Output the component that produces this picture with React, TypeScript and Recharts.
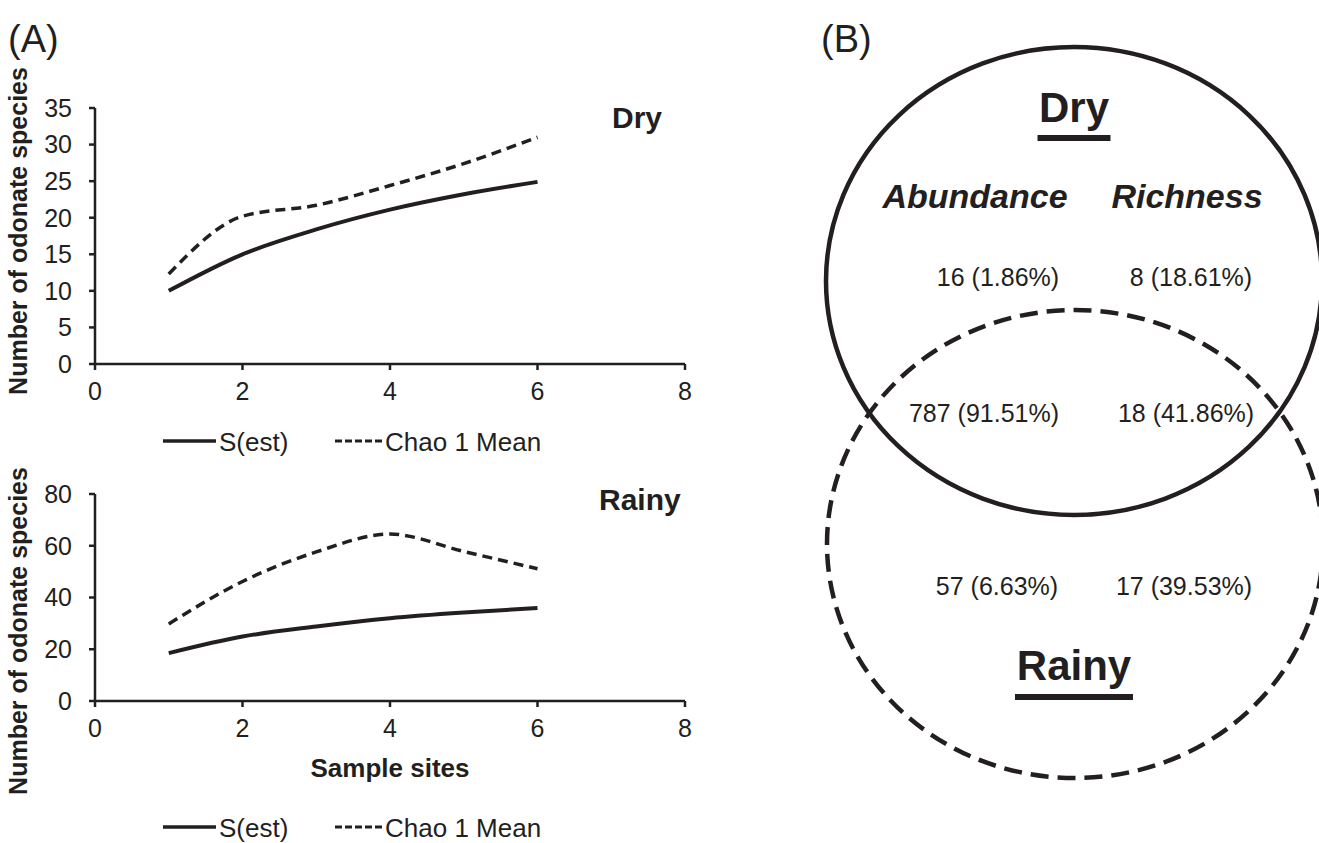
import React from "react";
import { LineChart, Line, XAxis, YAxis, ScatterChart, Scatter } from "recharts";

const INK = "#231f20";
const FONT = '"Liberation Sans", Arial, Helvetica, sans-serif';

// (A) species accumulation
const sites = [1, 2, 3, 4, 5, 6];
const drySest = [10, 15, 18.4, 21.1, 23.2, 24.9];
const dryChao = [12.3, 20.2, 21.7, 24.4, 27.4, 31];
const rainySest = [18.5, 24.9, 28.8, 32, 34.2, 35.9];
const rainyChao = [29.8, 46.2, 57.6, 64.5, 57.8, 51.1];

const xTicks = [0, 2, 4, 6, 8];
const dryTicks = [0, 5, 10, 15, 20, 25, 30, 35];
const rainyTicks = [0, 20, 40, 60, 80];

// (B) venn: dry only / shared / rainy only
const abundanceCounts = [16, 787, 57];
const abundancePct = [1.86, 91.51, 6.63];
const richnessCounts = [8, 18, 17];
const richnessPct = [18.61, 41.86, 39.53];
const seasons = ["Dry", "Rainy"];
const measures = ["Abundance", "Richness"];

// venn layout in page pixels
const ELLIPSES = [
  { cx: 1074, cy: 281, dashed: false },
  { cx: 1075, cy: 544, dashed: true },
];
const RX = 248;
const RY = 234;
const TITLE_Y = [122, 680];
const TITLE_UNDERLINE = [
  { y: 135, w: 73 },
  { y: 694, w: 118 },
];
const HEAD_X = [975, 1187];
const ABUND_X = [998, 984, 997];
const RICH_X = [1191, 1186, 1184];
const ROW_Y = [286, 422, 595];

const fmt = (n: number, p: number) => `${n} (${p.toFixed(2)}%)`;

const axisStyle = { stroke: INK, strokeWidth: 2.5 };
const tickStyle = { fill: INK, fontSize: 25, fontFamily: FONT };

function Curves({
  sest,
  chao,
  yTicks,
  top,
  height,
  xHeight,
  bottom,
  xLabel,
}: {
  sest: number[];
  chao: number[];
  yTicks: number[];
  top: number;
  height: number;
  xHeight: number;
  bottom: number;
  xLabel?: string;
}) {
  const data = sites.map((s, i) => ({ site: s, sest: sest[i], chao: chao[i] }));
  return (
    <LineChart
      width={700}
      height={height}
      data={data}
      margin={{ top, right: 15, bottom, left: 0 }}
    >
      <XAxis
        type="number"
        dataKey="site"
        domain={[0, 8]}
        ticks={xTicks}
        interval={0}
        tickSize={6}
        tickMargin={12}
        height={xHeight}
        axisLine={axisStyle}
        tickLine={axisStyle}
        tick={tickStyle}
        label={
          xLabel
            ? {
                value: xLabel,
                position: "insideBottom",
                offset: 4,
                fill: INK,
                fontSize: 26,
                fontWeight: 700,
                fontFamily: FONT,
              }
            : undefined
        }
      />
      <YAxis
        type="number"
        domain={[0, yTicks[yTicks.length - 1]]}
        ticks={yTicks}
        interval={0}
        width={95}
        tickSize={6}
        tickMargin={17}
        axisLine={axisStyle}
        tickLine={axisStyle}
        tick={tickStyle}
      />
      <Line
        type="monotone"
        dataKey="sest"
        stroke={INK}
        strokeWidth={4}
        dot={false}
        activeDot={false}
        isAnimationActive={false}
      />
      <Line
        type="monotone"
        dataKey="chao"
        stroke={INK}
        strokeWidth={3.5}
        strokeDasharray="10 6"
        dot={false}
        activeDot={false}
        isAnimationActive={false}
      />
    </LineChart>
  );
}

function LegendRow({ y }: { y: number }) {
  return (
    <g>
      <line x1={163} x2={216} y1={y} y2={y} stroke={INK} strokeWidth={3.5} />
      <text x={219} y={y + 10} fontSize={26} fill={INK} fontFamily={FONT}>
        S(est)
      </text>
      <line
        x1={335}
        x2={383}
        y1={y}
        y2={y}
        stroke={INK}
        strokeWidth={3}
        strokeDasharray="7 3"
      />
      <text x={385} y={y + 10} fontSize={26} fill={INK} fontFamily={FONT}>
        Chao 1 Mean
      </text>
    </g>
  );
}

function YTitle({ cy }: { cy: number }) {
  return (
    <text
      x={27}
      y={cy}
      transform={`rotate(-90 27 ${cy})`}
      textAnchor="middle"
      fontSize={25}
      fontWeight={700}
      fill={INK}
      fontFamily={FONT}
    >
      Number of odonate species
    </text>
  );
}

const EllipseShape = (props: any) => {
  const { cx, cy, payload } = props;
  return (
    <ellipse
      cx={cx}
      cy={cy}
      rx={RX}
      ry={RY}
      fill="none"
      stroke={INK}
      strokeWidth={4.5}
      strokeDasharray={payload.dashed ? "18 9" : undefined}
    />
  );
};

const TitleShape = (props: any) => {
  const { cx, cy, payload } = props;
  return (
    <g>
      <text
        x={cx}
        y={cy}
        textAnchor="middle"
        fontSize={42}
        fontWeight={700}
        fill={INK}
        fontFamily={FONT}
      >
        {payload.label}
      </text>
      <rect
        x={cx - payload.w / 2}
        y={payload.uy}
        width={payload.w}
        height={6}
        fill={INK}
      />
    </g>
  );
};

const TextShape = (props: any) => {
  const { cx, cy, payload } = props;
  return (
    <text
      x={cx}
      y={cy}
      textAnchor="middle"
      fontSize={payload.size}
      fontWeight={payload.bold ? 700 : 400}
      fontStyle={payload.italic ? "italic" : "normal"}
      fill={INK}
      fontFamily={FONT}
    >
      {payload.label}
    </text>
  );
};

function Venn() {
  const sets = ELLIPSES.map((e, i) => ({ x: e.cx, y: e.cy, dashed: e.dashed, label: seasons[i] }));
  const titles = seasons.map((s, i) => ({
    x: 1074,
    y: TITLE_Y[i],
    label: s,
    w: TITLE_UNDERLINE[i].w,
    uy: TITLE_UNDERLINE[i].y,
  }));
  const heads = measures.map((m, i) => ({
    x: HEAD_X[i],
    y: 208,
    label: m,
    size: 34,
    bold: true,
    italic: true,
  }));
  const cells = [
    ...abundanceCounts.map((n, i) => ({
      x: ABUND_X[i],
      y: ROW_Y[i],
      label: fmt(n, abundancePct[i]),
      size: 25,
    })),
    ...richnessCounts.map((n, i) => ({
      x: RICH_X[i],
      y: ROW_Y[i],
      label: fmt(n, richnessPct[i]),
      size: 25,
    })),
  ];
  return (
    <ScatterChart width={519} height={843} margin={{ top: 0, right: 0, bottom: 0, left: 0 }}>
      <XAxis type="number" dataKey="x" domain={[800, 1319]} hide />
      <YAxis type="number" dataKey="y" domain={[0, 843]} reversed hide />
      <Scatter data={sets} shape={EllipseShape} isAnimationActive={false} />
      <Scatter data={titles} shape={TitleShape} isAnimationActive={false} />
      <Scatter data={heads} shape={TextShape} isAnimationActive={false} />
      <Scatter data={cells} shape={TextShape} isAnimationActive={false} />
    </ScatterChart>
  );
}

export default function App() {
  return (
    <div
      style={{
        position: "absolute",
        left: 0,
        top: 0,
        width: 1319,
        height: 843,
        background: "#fff",
        overflow: "hidden",
        fontFamily: FONT,
      }}
    >
      <div style={{ position: "absolute", left: 0, top: 0 }}>
        <Curves
          sest={drySest}
          chao={dryChao}
          yTicks={dryTicks}
          top={108}
          height={420}
          xHeight={41}
          bottom={15}
        />
      </div>
      <div style={{ position: "absolute", left: 0, top: 420 }}>
        <Curves
          sest={rainySest}
          chao={rainyChao}
          yTicks={rainyTicks}
          top={74}
          height={380}
          xHeight={80}
          bottom={19}
          xLabel="Sample sites"
        />
      </div>
      <div style={{ position: "absolute", left: 800, top: 0 }}>
        <Venn />
      </div>
      <svg
        width={1319}
        height={843}
        style={{ position: "absolute", left: 0, top: 0, pointerEvents: "none" }}
      >
        <text x={8} y={52} fontSize={38} fill={INK} fontFamily={FONT}>
          (A)
        </text>
        <text x={821} y={52} fontSize={38} fill={INK} fontFamily={FONT}>
          (B)
        </text>
        <YTitle cy={231} />
        <YTitle cy={631} />
        <text x={612} y={128} fontSize={30} fontWeight={700} fill={INK} fontFamily={FONT}>
          Dry
        </text>
        <text x={599} y={510} fontSize={30} fontWeight={700} fill={INK} fontFamily={FONT}>
          Rainy
        </text>
        <LegendRow y={441} />
        <LegendRow y={827} />
      </svg>
    </div>
  );
}
